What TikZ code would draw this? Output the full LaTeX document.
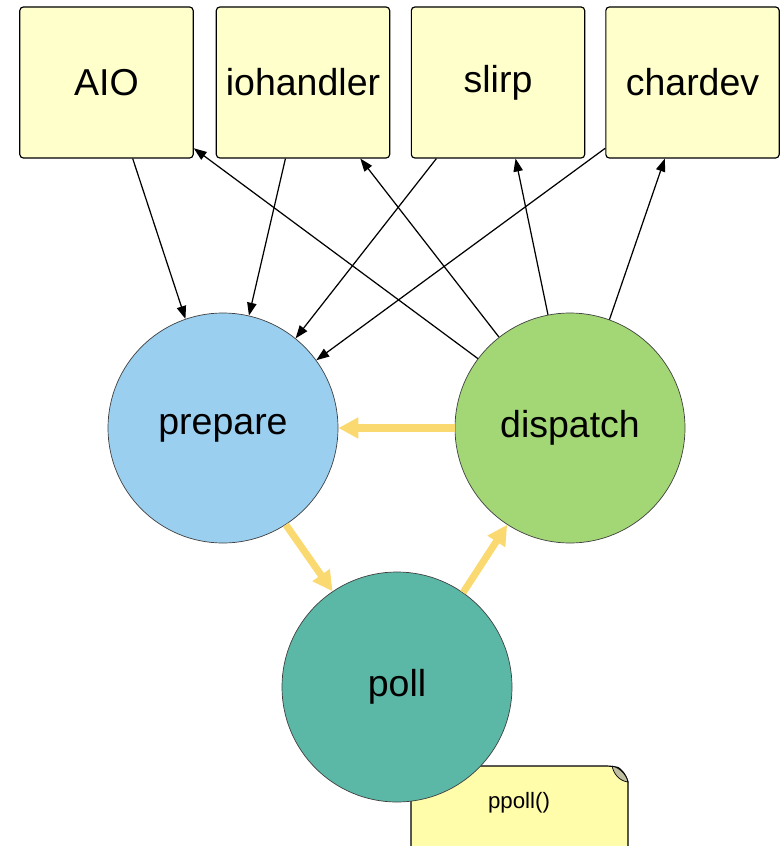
\documentclass[tikz,border=0pt]{standalone}
\usepackage{fontspec}
\setmainfont{Liberation Sans}
\usetikzlibrary{arrows.meta}
\definecolor{boxYellow}{RGB}{255,255,204}
\definecolor{noteYellow}{RGB}{255,252,170}
\definecolor{noteFold}{RGB}{190,190,160}
\definecolor{prepBlue}{RGB}{155,207,240}
\definecolor{dispGreen}{RGB}{163,214,117}
\definecolor{pollTeal}{RGB}{91,184,166}
\definecolor{loopGold}{RGB}{250,218,112}

\begin{document}
\begin{tikzpicture}[x=0.03cm, y=-0.03cm,
  srcbox/.style={draw, line width=1pt, fill=boxYellow, rounded corners=3pt,
    minimum width=5.2cm, minimum height=4.53cm, inner sep=0pt,
    font=\fontsize{32}{38}\selectfont},
  phase/.style={circle, draw=black!75, line width=0.6pt, minimum size=6.9cm,
    inner sep=0pt, font=\fontsize{32}{38}\selectfont},
  link/.style={line width=1.05pt, -{Triangle[length=11pt,width=8pt]}},
  loopflow/.style={loopGold, line width=6pt, -{Triangle[length=17pt,width=17pt]}}]
  \clip (0,0) rectangle (782,846);

  % event sources
  \node[srcbox] (AIO)       at (106.5,82.5) {AIO};
  \node[srcbox] (iohandler) at (303,82.5)   {iohandler};
  \node[srcbox] (slirp)     at (498,82.5)   {slirp};
  \node[srcbox] (chardev)   at (692.5,82.5) {chardev};

  % note under poll
  \draw[fill=noteYellow, line width=1pt, rounded corners=5pt]
    (411,880) -- (411,766) -- (612,766) [sharp corners]
    .. controls (620,768) and (626,774) .. (628,782) [rounded corners=5pt] -- (628,880);
  \filldraw[fill=noteFold, line width=0.6pt] (612,766) .. controls (620,768) and (626,774) .. (628,782)
    .. controls (620,781) and (614,775) .. (612,766);
  \node (ppoll) at (519,803) {\fontsize{19}{23}\selectfont ppoll()};

  % main loop phases
  \node[phase, fill=prepBlue]  (prepare)  at (223,428) {prepare};
  \node[phase, fill=dispGreen] (dispatch) at (570,428) {dispatch};
  \node[phase, fill=pollTeal]  (poll)     at (397,687) {poll};

  \draw[link] (AIO.-71) -- (prepare.109);
  \draw[link] (iohandler.-103) -- (prepare.77);
  \draw[link] (slirp.-129) -- (prepare.51);
  \draw[link] (chardev.-143) -- (prepare.36);
  \draw[link] (dispatch.143) -- (AIO.-37);
  \draw[link] (dispatch.128) -- (iohandler.-53);
  \draw[link] (dispatch.101) -- (slirp.-77);
  \draw[link] (dispatch.70) -- (chardev.-110);

  \draw[loopflow] (dispatch.west) -- (prepare.east);
  \draw[loopflow] (prepare.-57) -- (poll.124);
  \draw[loopflow] (poll.55) -- (dispatch.-123);
\end{tikzpicture}
\end{document}
